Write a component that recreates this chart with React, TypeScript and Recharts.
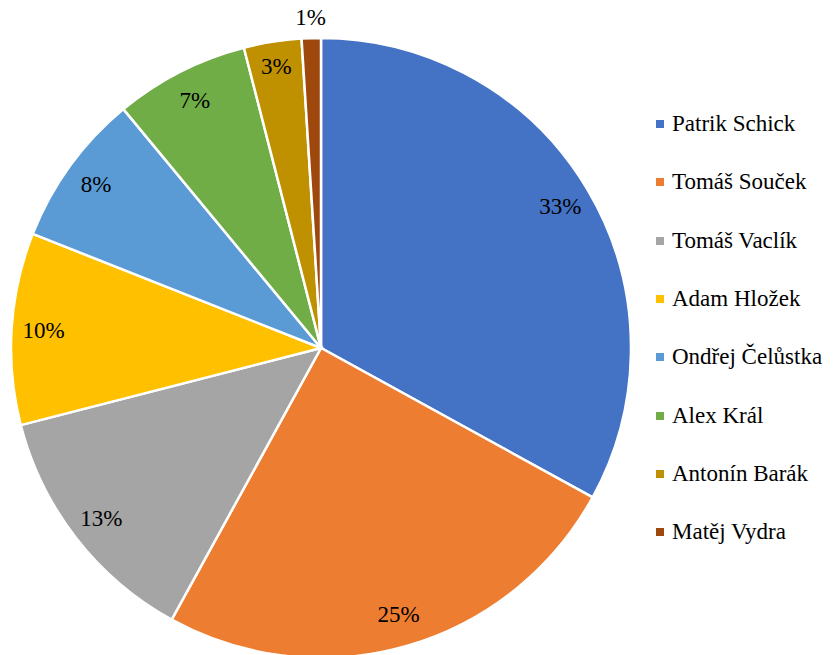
import React from "react";
import { PieChart, Pie, Cell, Legend } from "recharts";

const players = [
  "Patrik Schick",
  "Tomáš Souček",
  "Tomáš Vaclík",
  "Adam Hložek",
  "Ondřej Čelůstka",
  "Alex Král",
  "Antonín Barák",
  "Matěj Vydra",
];
const shares = [33, 25, 13, 10, 8, 7, 3, 1];
const colors = ["#4472C4", "#ED7D31", "#A5A5A5", "#FFC000", "#5B9BD5", "#70AD47", "#BF9000", "#9E480E"];
const labelRadii = [278, 278, 278, 278, 278, 278, 285, 331];

const data = players.map((name, i) => ({ name, value: shares[i] }));

const FONT = "Liberation Serif, Tinos, Times New Roman, DejaVu Serif, serif";
const RAD = Math.PI / 180;

const renderLabel = (props: any) => {
  const { cx, cy, midAngle, index, value } = props;
  const r = labelRadii[index];
  const x = cx + r * Math.cos(-midAngle * RAD);
  const y = cy + r * Math.sin(-midAngle * RAD);
  return (
    <text
      x={x}
      y={y}
      fill="#000"
      textAnchor="middle"
      dominantBaseline="central"
      fontFamily={FONT}
      fontSize={23}
    >
      {`${value}%`}
    </text>
  );
};

const renderLegend = () => (
  <div style={{ fontFamily: FONT, fontSize: 23, color: "#000" }}>
    {players.map((p, i) => (
      <div
        key={p}
        style={{ position: "absolute", left: 0, top: i * 58.3 - 15, height: 30, display: "flex", alignItems: "center", whiteSpace: "nowrap" }}
      >
        <span style={{ display: "inline-block", width: 8, height: 8, background: colors[i], marginRight: 8 }} />
        <span style={{ fontFamily: FONT }}>{p}</span>
      </div>
    ))}
  </div>
);

export default function App() {
  return (
    <div style={{ position: "absolute", left: 0, top: 0, width: 833, height: 655, background: "#fff" }}>
      <PieChart width={833} height={655} margin={{ top: 0, right: 0, bottom: 0, left: 0 }}>
        <Pie
          data={data}
          dataKey="value"
          nameKey="name"
          cx={321}
          cy={348}
          outerRadius={310}
          startAngle={90}
          endAngle={-270}
          stroke="#fff"
          strokeWidth={2.5}
          label={renderLabel}
          labelLine={false}
          isAnimationActive={false}
        >
          {data.map((d, i) => (
            <Cell key={d.name} fill={colors[i]} />
          ))}
        </Pie>
        <Legend
          content={renderLegend}
          wrapperStyle={{ position: "absolute", left: 656, top: 124, width: 177, height: 420 }}
        />
      </PieChart>
    </div>
  );
}
